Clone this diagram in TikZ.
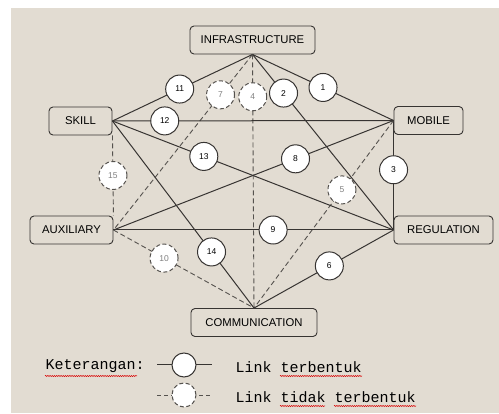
\documentclass[tikz,border=0pt]{standalone}
\usepackage{fontspec}
\setmainfont{Liberation Sans}
\newfontfamily\legendfont{Liberation Mono}
\usepackage{xcolor}
\usepackage{tikz}
\usetikzlibrary{shapes,positioning,calc,decorations.pathmorphing}

\definecolor{paper}{RGB}{226,220,210}
\definecolor{inkline}{RGB}{55,52,50}
\definecolor{dashline}{RGB}{85,82,78}

\begin{document}
\begin{tikzpicture}[x=1pt,y=-1pt,
    box/.style={draw=inkline, line width=0.9pt, rounded corners=4pt, fill=paper,
        minimum height=28pt, inner sep=0pt, font=\fontsize{11.3}{13}\selectfont},
    lnk/.style={draw=inkline, line width=1pt},
    nolnk/.style={draw=dashline, line width=0.9pt, dash pattern=on 5pt off 3pt},
    lnkc/.style={circle, draw=inkline, line width=1pt, fill=white, minimum size=28pt,
        inner sep=0pt, font=\fontsize{8.5}{9}\selectfont},
    nolnkc/.style={lnkc, draw=dashline, dash pattern=on 4pt off 2.5pt, text=gray},
    squiggle/.style={draw=red!85!black, line width=0.5pt,
        decorate, decoration={snake, amplitude=0.6pt, segment length=2.2pt}}]

    % background sheet
    \useasboundingbox (0,0) rectangle (499,414);
    \fill[paper] (11,8) rectangle (499,413);

    % the six factors
    \node [box, minimum width=125pt] (infra) at (252.5,40) {INFRASTRUCTURE};
    \node [box, minimum width=63pt] (skill) at (80.5,121) {SKILL};
    \node [box, minimum width=69pt] (mobile) at (428.5,120.5) {MOBILE};
    \node [box, minimum width=83pt] (aux) at (71.5,230) {AUXILIARY};
    \node [box, minimum width=99pt] (reg) at (443.5,230) {REGULATION};
    \node [box, minimum width=126pt] (comm) at (254,322.5) {COMMUNICATION};

    % links: from / to / position / number / style
    \foreach \a/\b/\p/\n/\s in {
        infra.south/mobile.west/0.5/1/lnk,
        infra.south/reg.west/0.22/2/lnk,
        mobile.west/reg.west/0.45/3/lnk,
        infra.south/comm.north/0.167/4/nolnk,
        mobile.west/comm.north/0.37/5/nolnk,
        reg.west/comm.north/0.46/6/lnk,
        infra.south/aux.east/0.23/7/nolnk,
        aux.east/mobile.west/0.65/8/lnk,
        aux.east/reg.west/0.57/9/lnk,
        aux.east/comm.north/0.36/10/nolnk,
        infra.south/skill.east/0.52/11/lnk,
        skill.east/mobile.west/0.186/12/lnk,
        skill.east/reg.west/0.325/13/lnk,
        skill.east/comm.north/0.7/14/lnk,
        skill.south east/aux.north east/0.5/15/nolnk}
        \draw [\s] (\a) -- coordinate[pos=\p] (m\n) (\b);

    \foreach \n/\s in {1/lnkc,2/lnkc,3/lnkc,4/nolnkc,5/nolnkc,6/lnkc,7/nolnkc,8/lnkc,
        9/lnkc,10/nolnkc,11/lnkc,12/lnkc,13/lnkc,14/lnkc,15/nolnkc}
        \node [\s] (c\n) at (m\n) {\n};

    % legend
    \node [anchor=west, font=\legendfont\fontsize{15}{17}\selectfont] (ket) at (42,366) {Keterangan:};
    \coordinate (la1) at (157,365);
    \coordinate (lb1) at (212,365);
    \coordinate (la2) at (157,395);
    \coordinate (lb2) at (212,395);
    \draw [lnk] (la1) -- (lb1);
    \draw [nolnk, dash pattern=on 4pt off 3pt] (la2) -- (lb2);
    \node [lnkc, minimum size=24pt] (lc1) at (184,365) {};
    \node [nolnkc, minimum size=24pt] (lc2) at (184,395) {};
    \node [anchor=west, font=\legendfont\fontsize{15}{17}\selectfont] (txt1) at (232,367) {Link terbentuk};
    \node [anchor=west, font=\legendfont\fontsize{15}{17}\selectfont] (txt2) at (232,397) {Link tidak terbentuk};

    % spelling marks
    \draw [squiggle] (45,376) -- (137,376);
    \draw [squiggle] (280,376) -- (362,376);
    \draw [squiggle] (280,406) -- (325,406);
    \draw [squiggle] (334,406) -- (416,406);
\end{tikzpicture}
\end{document}
